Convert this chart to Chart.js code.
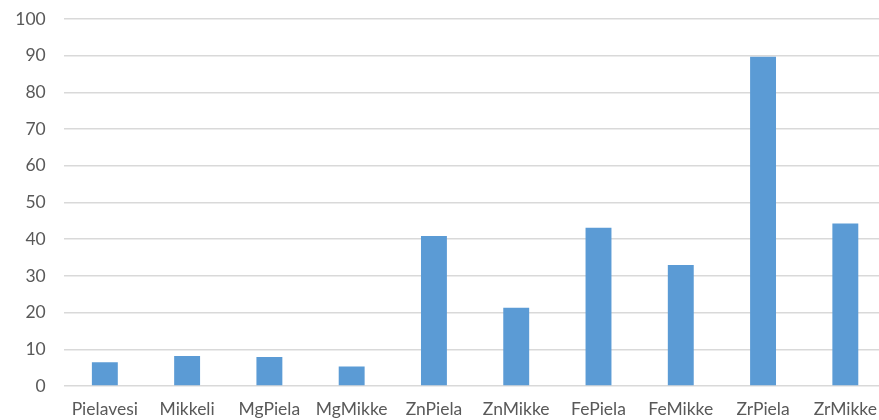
<!DOCTYPE html>
<html>
<head>
<meta charset="utf-8">
<script src="https://cdn.jsdelivr.net/npm/chart.js@4"></script>
<style>
  html, body { margin: 0; padding: 0; background: #fff; overflow: hidden; width: 879px; height: 420px; }
  #wrap { position: absolute; left: 0; top: 0; width: 890px; height: 420px; }
</style>
</head>
<body>
<div id="wrap"><canvas id="c" width="890" height="420"></canvas></div>
<script>
const categories = ['Pielavesi', 'Mikkeli', 'MgPiela', 'MgMikke', 'ZnPiela', 'ZnMikke', 'FePiela', 'FeMikke', 'ZrPiela', 'ZrMikke'];
const values = [6.5, 8.2, 7.9, 5.3, 40.9, 21.3, 43.1, 33.0, 89.7, 44.3];
const yTicks = [0, 10, 20, 30, 40, 50, 60, 70, 80, 90, 100];

const labelFont = { family: 'Lato, "Open Sans", sans-serif', size: 17.5 };

new Chart(document.getElementById('c'), {
  type: 'bar',
  data: {
    labels: categories,
    datasets: [{
      data: values,
      backgroundColor: '#5B9BD5',
      borderWidth: 0,
      barPercentage: 1,
      categoryPercentage: 0.315
    }]
  },
  options: {
    responsive: false,
    animation: false,
    layout: { padding: { top: 19, right: 0, bottom: 0, left: 0 } },
    plugins: { legend: { display: false }, tooltip: { enabled: false } },
    scales: {
      x: {
        grid: { display: false, drawTicks: false },
        border: { display: false },
        ticks: { color: '#595959', font: labelFont, padding: 13, maxRotation: 0, autoSkip: false },
        afterFit: s => { s.height = 34; s.paddingTop = 0; s.paddingBottom = 0; }
      },
      y: {
        min: 0,
        max: 100,
        afterBuildTicks: s => { s.ticks = yTicks.map(v => ({ value: v })); },
        grid: { color: '#d9d9d9', lineWidth: 1.5, drawTicks: false },
        border: { display: false },
        ticks: { color: '#595959', font: labelFont, padding: 18 },
        afterFit: s => { s.width = 63.7; s.paddingTop = 0; s.paddingBottom = 0; }
      }
    }
  }
});
</script>
</body>
</html>
